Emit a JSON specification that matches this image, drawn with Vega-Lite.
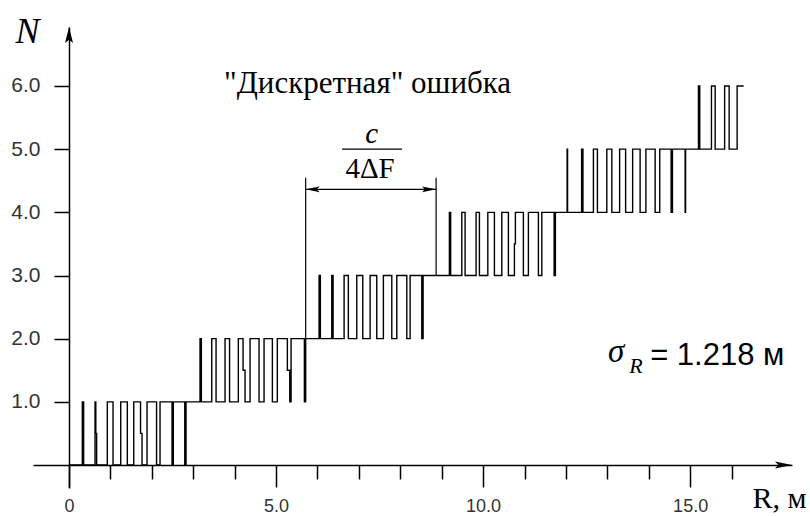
{
  "$schema": "https://vega.github.io/schema/vega-lite/v6.json",
  "width": 759,
  "height": 461,
  "autosize": {"type": "none"},
  "padding": {"left": 33, "top": 27, "right": 18, "bottom": 28},
  "background": "white",
  "config": {"view": {"stroke": null}, "axis": {"grid": false}},
  "datasets": {
    "signal": [
      {"r":0,"n":0},{"r":0.321,"n":1},{"r":0.353,"n":0},{"r":0.628,"n":1},{"r":0.647,"n":0.5},{"r":0.667,"n":0},{"r":0.925,"n":1},{"r":1.063,"n":0},{"r":1.249,"n":1},{"r":1.408,"n":0},{"r":1.563,"n":1},{"r":1.727,"n":0.5},{"r":1.763,"n":0},{"r":1.884,"n":1},{"r":2.114,"n":0},{"r":2.198,"n":1},{"r":2.488,"n":0},{"r":2.519,"n":1},{"r":2.795,"n":0},{"r":2.826,"n":1},
      {"r":3.164,"n":2},{"r":3.196,"n":1},{"r":3.447,"n":2},{"r":3.551,"n":1},{"r":3.768,"n":2},{"r":3.877,"n":1},{"r":4.089,"n":2},{"r":4.203,"n":1.5},{"r":4.251,"n":1},{"r":4.372,"n":2},{"r":4.589,"n":1},{"r":4.710,"n":2},{"r":4.911,"n":1},{"r":5.031,"n":2},{"r":5.273,"n":1.5},{"r":5.331,"n":1},{"r":5.362,"n":2},{"r":5.684,"n":1},{"r":5.715,"n":2},
      {"r":6.039,"n":3},{"r":6.070,"n":2},{"r":6.345,"n":3},{"r":6.377,"n":2},{"r":6.643,"n":3},{"r":6.746,"n":2},{"r":6.949,"n":3},{"r":7.094,"n":2},{"r":7.271,"n":3},{"r":7.432,"n":2},{"r":7.592,"n":3},{"r":7.795,"n":2},{"r":7.916,"n":3},{"r":8.157,"n":2},{"r":8.237,"n":3},{"r":8.519,"n":2},{"r":8.551,"n":3},
      {"r":9.186,"n":4},{"r":9.217,"n":3},{"r":9.486,"n":4},{"r":9.565,"n":3},{"r":9.831,"n":4},{"r":9.911,"n":3},{"r":10.114,"n":4},{"r":10.273,"n":3},{"r":10.452,"n":4},{"r":10.611,"n":3},{"r":10.756,"n":3.5},{"r":10.780,"n":4},{"r":10.973,"n":3},{"r":11.094,"n":4},{"r":11.336,"n":3},{"r":11.418,"n":4},{"r":11.715,"n":3},{"r":11.746,"n":4},
      {"r":12.029,"n":5},{"r":12.040,"n":4},{"r":12.379,"n":5},{"r":12.411,"n":4},{"r":12.664,"n":5},{"r":12.761,"n":4},{"r":12.988,"n":5},{"r":13.109,"n":4},{"r":13.297,"n":5},{"r":13.442,"n":4},{"r":13.611,"n":5},{"r":13.792,"n":4},{"r":13.932,"n":5},{"r":14.155,"n":4},{"r":14.266,"n":5},{"r":14.541,"n":4},{"r":14.573,"n":5},{"r":14.879,"n":4},{"r":14.890,"n":5},
      {"r":15.201,"n":6},{"r":15.232,"n":5},{"r":15.515,"n":6},{"r":15.604,"n":5},{"r":15.833,"n":6},{"r":15.942,"n":5},{"r":16.135,"n":6},{"r":16.292,"n":6}
    ],
    "extension": [
      {"r": 5.715, "n": 2, "n2": 4.548},
      {"r": 8.865, "n": 3, "n2": 4.548}
    ],
    "one": [{}]
  },
  "layer": [
    {
      "data": {"name": "signal"},
      "mark": {"type": "line", "interpolate": "step-after", "color": "black", "strokeWidth": 1.4},
      "encoding": {
        "x": {
          "field": "r", "type": "quantitative",
          "scale": {"domain": [-0.87, 17.46], "nice": false, "zero": false},
          "axis": {
            "orient": "bottom", "offset": -23,
            "values": [0,1,2,3,4,5,6,7,8,9,10,11,12,13,14,15,16],
            "domainColor": "black", "domainWidth": 1.5,
            "tickColor": "black", "tickWidth": 1.5,
            "tickSize": {"condition": {"test": "datum.value % 5 === 0", "value": 22}, "value": 14},
            "labelExpr": "datum.value === 0 ? '0' : (datum.value % 5 === 0 ? format(datum.value, '.1f') : '')",
            "labelFont": "Liberation Sans", "labelFontSize": 18, "labelColor": "#333333",
            "labelBaseline": "alphabetic",
            "labelPadding": 24, "labelOverlap": false, "labelFlush": false,
            "title": "R, м", "titleFont": "Liberation Serif", "titleFontSize": 30, "titleFontWeight": "normal",
            "titleColor": "black", "titleAlign": "left", "titleBaseline": "alphabetic",
            "titleX": 719, "titleY": 42, "titleAnchor": null
          }
        },
        "y": {
          "field": "n", "type": "quantitative",
          "scale": {"domain": [-0.364, 6.934], "nice": false, "zero": false},
          "axis": {
            "orient": "left", "offset": -36,
            "values": [1,2,3,4,5,6],
            "format": ".1f",
            "domainColor": "black", "domainWidth": 1.5,
            "tickColor": "black", "tickWidth": 1.5, "tickSize": 15,
            "labelFont": "Liberation Sans", "labelFontSize": 21, "labelColor": "#333333",
            "labelPadding": 14,
            "title": "N", "titleFont": "Liberation Serif", "titleFontStyle": "italic", "titleFontSize": 36, "titleFontWeight": "normal",
            "titleColor": "black", "titleAngle": 0, "titleAlign": "left", "titleBaseline": "alphabetic",
            "titleX": -54, "titleY": 15
          }
        }
      }
    },
    {
      "data": {"name": "extension"},
      "mark": {"type": "rule", "color": "black", "strokeWidth": 1.2},
      "encoding": {
        "x": {"field": "r", "type": "quantitative"},
        "y": {"field": "n", "type": "quantitative"},
        "y2": {"field": "n2"}
      }
    },
    {
      "data": {"name": "one"},
      "mark": {"type": "rule", "color": "black", "strokeWidth": 1.3},
      "encoding": {"x": {"datum": 5.715}, "x2": {"datum": 8.865}, "y": {"datum": 4.364}}
    },
    {
      "data": {"name": "one"},
      "mark": {"type": "rule", "color": "black", "strokeWidth": 1.3},
      "encoding": {"x": {"datum": 6.594}, "x2": {"datum": 8.043}, "y": {"datum": 5.0}}
    },
    {
      "data": {"name": "one"},
      "mark": {"type": "point", "shape": "M0,0L2,-0.4L1.6,0L2,0.4Z", "size": 196, "filled": true, "color": "black", "opacity": 1, "strokeWidth": 0},
      "encoding": {"x": {"datum": 5.715}, "y": {"datum": 4.364}}
    },
    {
      "data": {"name": "one"},
      "mark": {"type": "point", "shape": "M0,0L-2,-0.4L-1.6,0L-2,0.4Z", "size": 196, "filled": true, "color": "black", "opacity": 1, "strokeWidth": 0},
      "encoding": {"x": {"datum": 8.865}, "y": {"datum": 4.364}}
    },
    {
      "data": {"name": "one"},
      "mark": {"type": "point", "shape": "M0,0L-2,-0.4L-1.6,0L-2,0.4Z", "size": 289, "filled": true, "color": "black", "opacity": 1, "strokeWidth": 0},
      "encoding": {"x": {"datum": 17.46}, "y": {"datum": 0}}
    },
    {
      "data": {"name": "one"},
      "mark": {"type": "point", "shape": "M0,0L-0.5,2L0,1.6L0.5,2Z", "size": 256, "filled": true, "color": "black", "opacity": 1, "strokeWidth": 0},
      "encoding": {"x": {"datum": 0}, "y": {"datum": 6.934}}
    },
    {
      "data": {"name": "one"},
      "mark": {"type": "text", "text": "\"Дискретная\" ошибка", "font": "Liberation Serif", "fontSize": 31, "align": "center", "baseline": "alphabetic", "color": "black"},
      "encoding": {"x": {"datum": 7.21}, "y": {"datum": 5.889}}
    },
    {
      "data": {"name": "one"},
      "mark": {"type": "text", "text": "c", "font": "Liberation Serif", "fontStyle": "italic", "fontSize": 29, "align": "center", "baseline": "alphabetic", "color": "black"},
      "encoding": {"x": {"datum": 7.307}, "y": {"datum": 5.097}}
    },
    {
      "data": {"name": "one"},
      "mark": {"type": "text", "text": "4ΔF", "font": "Liberation Serif", "fontSize": 29, "align": "center", "baseline": "alphabetic", "color": "black"},
      "encoding": {"x": {"datum": 7.271}, "y": {"datum": 4.543}}
    },
    {
      "data": {"name": "one"},
      "mark": {"type": "text", "text": "σ", "font": "Liberation Serif", "fontStyle": "italic", "fontSize": 33, "align": "left", "baseline": "alphabetic", "color": "black"},
      "encoding": {"x": {"datum": 13.019}, "y": {"datum": 1.631}}
    },
    {
      "data": {"name": "one"},
      "mark": {"type": "text", "text": "R", "font": "Liberation Serif", "fontStyle": "italic", "fontSize": 22, "align": "left", "baseline": "alphabetic", "color": "black"},
      "encoding": {"x": {"datum": 13.53}, "y": {"datum": 1.456}}
    },
    {
      "data": {"name": "one"},
      "mark": {"type": "text", "text": "= 1.218 м", "font": "Liberation Sans", "fontSize": 31, "align": "left", "baseline": "alphabetic", "color": "black"},
      "encoding": {"x": {"datum": 14.034}, "y": {"datum": 1.583}}
    }
  ]
}
